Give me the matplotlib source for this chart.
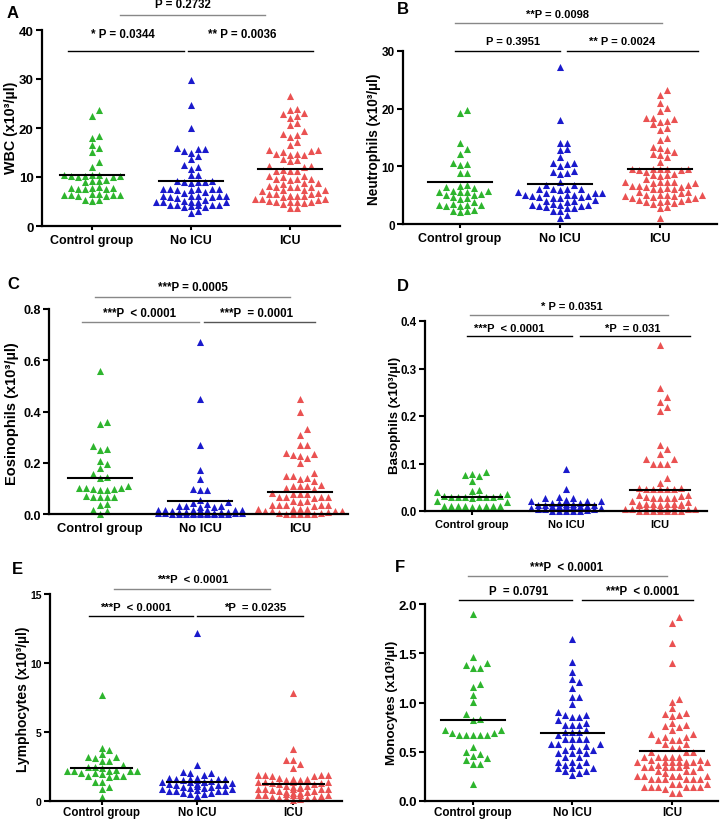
import numpy as np
import matplotlib
matplotlib.use("Agg")
import matplotlib.pyplot as plt
from matplotlib.ticker import FormatStrFormatter

plt.rcParams['font.family'] = ['Liberation Sans', 'DejaVu Sans']
plt.rcParams['font.weight'] = 'bold'

groups = ["Control group", "No ICU", "ICU"]
colors = ["#2eb52e", "#1a1acc", "#ea5252"]

# ---- A: WBC
wbc_ctrl = [23.7, 22.5, 18.4, 17.9, 16.5, 15.9, 15.1, 13.1, 12.0,
            10.5, 10.4, 10.3, 10.2, 10.1, 10.3, 10.4, 10.0,
            9.1, 9.2, 9.0, 9.3,
            7.8, 7.6, 7.7, 7.5, 7.9, 7.6, 7.7,
            6.4, 6.3, 6.2, 6.5, 6.1, 6.3, 6.4, 6.6,
            5.3, 5.2, 5.4]
wbc_noicu = [29.8, 24.6, 19.9, 15.8, 15.7, 15.9, 15.3, 14.9, 14.3, 13.6, 12.5, 12.0, 11.7,
             10.5, 10.4, 9.0, 9.1, 8.9, 9.0, 9.2, 8.8,
             7.5, 7.4, 7.6, 7.5, 7.3, 7.6, 7.5, 6.8, 6.9,
             6.1, 6.2, 6.0, 6.1, 6.2, 6.0, 6.1, 5.4, 5.8,
             5.0, 4.9, 5.1, 5.0, 4.9, 5.0,
             4.2, 4.3, 4.1, 4.2, 4.3, 4.2, 3.9, 3.9, 3.0, 2.7]
wbc_icu = [26.6, 23.7, 23.9, 23.1, 22.9, 22.4, 22.1, 21.0, 20.6, 19.3, 18.8, 18.5, 18.2, 17.2, 16.5,
           15.5, 15.4, 15.2, 15.6, 14.5, 14.6, 14.7, 14.5, 13.6, 13.4, 13.2,
           12.3, 12.2, 12.0, 11.5, 11.3, 11.3, 11.2, 10.2, 10.3, 10.1,
           9.5, 9.6, 9.4, 9.5, 8.7, 8.8, 8.6, 8.0, 7.9, 8.1, 7.9, 8.0,
           7.3, 7.4, 7.2, 7.3, 6.6, 6.7, 6.5, 6.6, 6.1, 6.2, 6.0, 6.1, 6.2,
           5.5, 5.6, 5.4, 5.5, 5.0, 5.1, 4.9, 5.0, 5.0, 4.5, 4.6, 3.6, 3.6]
wbc_mid = [10.5, 9.1, 11.6]

# ---- B: Neutrophils
neu_ctrl = [19.7, 19.3, 14.1, 13.0, 12.1, 10.6, 10.4, 10.2, 8.9, 8.9,
            6.8, 6.6, 6.4, 6.3, 5.7, 5.6, 5.5, 5.6, 5.7, 5.1, 5.2, 5.0,
            4.5, 4.6, 4.4, 3.8, 3.3, 3.2, 3.4, 3.3, 3.2, 3.3, 2.5, 2.2, 2.3, 2.1]
neu_noicu = [27.2, 18.1, 14.1, 14.0, 12.9, 13.0, 11.7, 10.5, 10.6, 10.4, 10.0, 9.2, 8.9, 9.0, 8.6, 7.3, 6.8, 6.7,
             6.0, 6.1, 5.9, 6.0, 6.1, 5.4, 5.5, 5.3, 5.4,
             5.0, 4.9, 5.1, 5.0, 4.9, 4.6, 4.5, 4.6, 4.5,
             4.0, 4.1, 3.9, 4.0, 3.3, 3.2, 3.4, 3.3, 3.2, 3.3,
             2.8, 2.9, 2.7, 2.3, 2.2, 1.6, 1.0]
neu_icu = [23.3, 22.4, 21.0, 20.2, 19.6, 18.4, 18.2, 18.3, 17.7, 17.8, 17.3, 16.6, 16.3, 15.0, 14.5,
           13.4, 13.1, 12.9, 12.5, 12.2, 11.9, 11.6, 10.8,
           9.5, 9.4, 9.6, 9.5, 9.4, 9.5, 9.6, 9.0,
           8.5, 8.4, 8.6, 8.5, 7.8, 7.2, 7.1, 7.3, 7.2, 7.1, 7.2,
           6.6, 6.5, 6.7, 6.6, 6.5, 6.1, 6.0, 6.2, 6.1,
           5.5, 5.4, 5.6, 5.0, 4.9, 5.1, 5.0, 4.9, 5.0,
           4.5, 4.4, 4.6, 4.5, 4.0, 3.9, 4.1, 4.0, 3.9, 3.6, 3.5, 2.9, 2.8, 1.1]
neu_mid = [7.2, 7.0, 9.6]

# ---- C: Eosinophils
eos_ctrl = [0.56, 0.36, 0.35, 0.265, 0.255, 0.25, 0.205, 0.195, 0.18, 0.155, 0.145, 0.14, 0.11,
            0.10, 0.095, 0.10, 0.098, 0.095, 0.10, 0.097,
            0.067, 0.065, 0.07, 0.066, 0.068, 0.04, 0.035, 0.015, 0.012, 0.0]
eos_noicu = [0.67, 0.45, 0.27, 0.17, 0.135, 0.095, 0.094, 0.096, 0.055, 0.045, 0.04, 0.042,
             0.03, 0.028, 0.032, 0.03, 0.029, 0.015, 0.016, 0.014, 0.015, 0.016, 0.014, 0.015, 0.013,
             0.0, 0.0, 0.0, 0.0, 0.0, 0.0, 0.0, 0.0, 0.0, 0.003, 0.002, 0.004, 0.003, 0.005,
             0.006, 0.002, 0.004, 0.007, 0.005, 0.006, 0.008]
eos_icu = [0.45, 0.40, 0.33, 0.31, 0.27, 0.27, 0.24, 0.235, 0.225, 0.22, 0.23, 0.20,
           0.16, 0.15, 0.148, 0.14, 0.13, 0.138,
           0.11, 0.112, 0.108, 0.11, 0.10, 0.098,
           0.08, 0.082, 0.078, 0.08, 0.065, 0.066, 0.064, 0.065, 0.067,
           0.05, 0.052, 0.048, 0.035, 0.036, 0.034, 0.035, 0.037, 0.033,
           0.02, 0.021, 0.019, 0.02, 0.01, 0.011, 0.009, 0.01, 0.012,
           0.0, 0.0, 0.0, 0.0, 0.0, 0.003, 0.004]
eos_mid = [0.142, 0.05, 0.085]

# ---- D: Basophils
bas_ctrl = [0.083, 0.077, 0.075, 0.073, 0.063, 0.045, 0.043, 0.04, 0.035,
            0.03, 0.029, 0.031, 0.03, 0.028, 0.03, 0.029, 0.031, 0.03, 0.02, 0.021,
            0.01, 0.011, 0.01, 0.009, 0.01, 0.011, 0.01, 0.009, 0.01]
bas_noicu = [0.088, 0.047, 0.028, 0.029, 0.027, 0.022, 0.021, 0.023, 0.022,
             0.016, 0.017, 0.015, 0.011, 0.01, 0.012, 0.011, 0.01, 0.012,
             0.005, 0.006, 0.004, 0.0, 0.0, 0.0, 0.0, 0.001, 0.002, 0.011, 0.01, 0.012,
             0.005, 0.006, 0.016, 0.015]
bas_icu = [0.35, 0.26, 0.24, 0.23, 0.22, 0.21, 0.14, 0.13, 0.12, 0.11, 0.11, 0.10, 0.10, 0.10, 0.07, 0.06,
           0.047, 0.046, 0.048, 0.047, 0.046, 0.047, 0.048,
           0.033, 0.032, 0.034, 0.028, 0.027, 0.029, 0.028, 0.027,
           0.02, 0.021, 0.014, 0.013, 0.015, 0.014, 0.013, 0.014, 0.015, 0.014, 0.013,
           0.005, 0.006, 0.004, 0.005, 0.006, 0.004, 0.005, 0.006, 0.005,
           0.0, 0.0, 0.0, 0.0, 0.0, 0.0, 0.0]
bas_mid = [0.03, 0.012, 0.045]

# ---- E: Lymphocytes
lym_ctrl = [7.65, 3.85, 3.7, 3.4, 3.2, 3.2, 3.1, 2.9, 2.9, 2.6, 2.45, 2.45, 2.4,
            2.2, 2.2, 2.15, 2.2, 2.25, 2.2, 2.0, 2.0, 1.95, 1.8, 1.8, 1.75, 1.8,
            1.4, 1.4, 1.05, 0.85, 0.3]
lym_noicu = [12.2, 2.6, 2.05, 2.0, 2.1, 1.9, 1.6, 1.6, 1.55, 1.6, 1.65, 1.6,
             1.4, 1.4, 1.35, 1.4, 1.15, 1.15, 1.1, 1.2, 1.15, 0.95, 0.95, 0.9, 1.0,
             0.7, 0.7, 0.75, 0.7, 0.5, 0.5, 0.55, 0.35, 1.3, 1.5, 1.25, 0.8, 0.85,
             1.45, 1.7, 1.05, 0.6]
lym_icu = [7.85, 3.75, 3.0, 2.95, 2.7, 2.4, 1.85, 1.85, 1.8, 1.9, 1.85, 1.8, 1.6, 1.6, 1.55,
           1.35, 1.35, 1.3, 1.4, 1.35, 1.3, 1.1, 1.1, 1.05, 0.9, 0.9, 0.85, 0.95, 0.9, 0.9,
           0.65, 0.65, 0.6, 0.45, 0.45, 0.4, 0.5, 0.45, 0.4, 0.25, 0.25, 0.2, 0.3,
           1.2, 1.25, 1.0, 0.75, 0.55, 0.35, 0.15, 0.1, 1.65, 1.5, 0.8, 0.7, 0.2]
lym_mid = [2.4, 1.4, 1.2]

# ---- F: Monocytes
mon_ctrl = [1.9, 1.46, 1.4, 1.38, 1.35, 1.35, 1.19, 1.16, 1.08, 1.01, 0.88, 0.83, 0.82,
            0.72, 0.72, 0.69, 0.69, 0.67, 0.67, 0.67, 0.67, 0.67,
            0.55, 0.5, 0.48, 0.46, 0.44, 0.42, 0.38, 0.38, 0.17]
mon_noicu = [1.64, 1.41, 1.31, 1.24, 1.21, 1.15, 1.06, 1.06, 0.98,
             0.9, 0.87, 0.87, 0.85, 0.85, 0.82, 0.79, 0.77, 0.77, 0.77, 0.72,
             0.7, 0.7, 0.7, 0.67, 0.63, 0.63, 0.63, 0.63, 0.58, 0.58, 0.58, 0.56, 0.56,
             0.52, 0.52, 0.52, 0.49, 0.49, 0.49, 0.45, 0.45, 0.4, 0.4, 0.4,
             0.37, 0.37, 0.33, 0.33, 0.33, 0.3, 0.3, 0.28, 0.26]
mon_icu = [1.87, 1.81, 1.6, 1.4, 1.04, 1.01, 0.94, 0.88, 0.89, 0.87, 0.86, 0.79, 0.77, 0.76, 0.75,
           0.72, 0.68, 0.68, 0.65, 0.65, 0.62, 0.62, 0.62, 0.58, 0.58, 0.54, 0.54,
           0.5, 0.5, 0.5, 0.45, 0.45, 0.45, 0.45, 0.45, 0.42, 0.42,
           0.4, 0.4, 0.4, 0.4, 0.4, 0.4, 0.4, 0.37, 0.37,
           0.35, 0.35, 0.35, 0.35, 0.35, 0.35, 0.3, 0.3, 0.3, 0.28,
           0.25, 0.25, 0.25, 0.25, 0.25, 0.25, 0.25, 0.22, 0.22, 0.22, 0.22, 0.22, 0.22,
           0.17, 0.17, 0.17, 0.14, 0.14, 0.14, 0.14, 0.14, 0.14, 0.12, 0.08, 0.08]
mon_mid = [0.82, 0.69, 0.505]

W, H = 721, 820

panels = [
    dict(letter="A", lpos=(13, 13), ylabel="WBC (x10³/µl)", ypos=(11, 128),
         data=[wbc_ctrl, wbc_noicu, wbc_icu], mid=wbc_mid,
         box=(42, 31, 340, 227), xlim=(-0.505, 2.505), ylim=(0, 40), yticks=[0, 10, 20, 30, 40], fmt="%d",
         fs=(9.5, 9, 10.3, 8.3), xpad=3,
         brackets=[(-0.24, 0.93, 35.7, "* P = 0.0344", 0.31, 39.2, "black"),
                   (0.97, 2.23, 35.7, "** P = 0.0036", 1.52, 39.2, "black"),
                   (0.28, 1.75, 43.1, "P = 0.2732", 0.92, 45.4, "#888888")]),
    dict(letter="B", lpos=(403, 10), ylabel="Neutrophils (x10³/µl)", ypos=(374, 139),
         data=[neu_ctrl, neu_noicu, neu_icu], mid=neu_mid,
         box=(403, 52, 717, 225), xlim=(-0.57, 2.57), ylim=(0, 30), yticks=[0, 10, 20, 30], fmt="%d",
         fs=(8.5, 9, 9.8, 8), xpad=3,
         brackets=[(-0.05, 1.0, 30.0, "P = 0.3951", 0.53, 31.7, "black"),
                   (1.07, 2.38, 30.0, "** P = 0.0024", 1.62, 31.7, "black"),
                   (-0.05, 2.02, 34.8, "**P = 0.0098", 0.97, 36.4, "#888888")]),
    dict(letter="C", lpos=(13, 285), ylabel="Eosinophils (x10³/µl)", ypos=(12, 414),
         data=[eos_ctrl, eos_noicu, eos_icu], mid=eos_mid,
         box=(49, 310, 348, 515), xlim=(-0.51, 2.48), ylim=(0, 0.8), yticks=[0, 0.2, 0.4, 0.6, 0.8], fmt="%.1f",
         fs=(9, 9.3, 10.5, 8.3), xpad=3,
         brackets=[(-0.18, 0.99, 0.749, "***P  < 0.0001", 0.40, 0.784, "#888888"),
                   (1.04, 2.15, 0.749, "***P  = 0.0001", 1.57, 0.784, "#555555"),
                   (-0.05, 1.9, 0.847, "***P = 0.0005", 0.93, 0.886, "#888888")]),
    dict(letter="D", lpos=(403, 287), ylabel="Basophils (x10³/µl)", ypos=(395, 415),
         data=[bas_ctrl, bas_noicu, bas_icu], mid=bas_mid,
         box=(425, 322, 707, 512), xlim=(-0.5, 2.5), ylim=(0, 0.4), yticks=[0, 0.1, 0.2, 0.3, 0.4], fmt="%.1f",
         fs=(8.3, 7.9, 9.5, 8), xpad=3,
         brackets=[(-0.05, 1.06, 0.368, "***P  < 0.0001", 0.40, 0.385, "black"),
                   (1.15, 2.32, 0.368, "*P  = 0.031", 1.71, 0.385, "black"),
                   (-0.02, 2.09, 0.413, "* P = 0.0351", 1.06, 0.432, "#888888")]),
    dict(letter="E", lpos=(17, 570), ylabel="Lymphocytes (x10³/µl)", ypos=(23, 699),
         data=[lym_ctrl, lym_noicu, lym_icu], mid=lym_mid,
         box=(50, 595, 342, 802), xlim=(-0.54, 2.51), ylim=(0, 15), yticks=[0, 5, 10, 15], fmt="%d",
         fs=(7.5, 8.3, 10, 8.1), xpad=0.5,
         brackets=[(-0.13, 0.95, 13.4, "***P  < 0.0001", 0.35, 14.06, "black"),
                   (1.0, 2.1, 13.4, "*P  = 0.0235", 1.6, 14.06, "black"),
                   (0.13, 1.76, 15.36, "***P  < 0.0001", 0.95, 16.1, "#888888")]),
    dict(letter="F", lpos=(400, 568), ylabel="Monocytes (x10³/µl)", ypos=(392, 703),
         data=[mon_ctrl, mon_noicu, mon_icu], mid=mon_mid,
         box=(425, 605, 718, 802), xlim=(-0.48, 2.46), ylim=(0, 2.0), yticks=[0, 0.5, 1.0, 1.5, 2.0], fmt="%.1f",
         fs=(9.5, 8.4, 9.6, 8.3), xpad=0.5,
         brackets=[(-0.14, 1.0, 2.04, "P  = 0.0791", 0.46, 2.13, "black"),
                   (1.1, 2.21, 2.04, "***P  < 0.0001", 1.7, 2.13, "black"),
                   (-0.05, 1.95, 2.28, "***P  < 0.0001", 0.94, 2.38, "#888888")]),
]


def swarm(ax, center, vals, w=7.0, h=6.0, limit=0.42):
    # greedy beeswarm in pixel space, staggered by half a marker
    vals = np.asarray(vals, float)
    ypx = ax.transData.transform(np.column_stack([np.full(len(vals), center), vals]))[:, 1]
    unit = ax.transData.transform((1, 0))[0] - ax.transData.transform((0, 0))[0]
    step = w / 2
    cands = [0.0]
    k = 1
    while k * step <= limit * unit:
        cands += [k * step, -k * step]
        k += 1
    px, py = [], []
    xs = np.zeros(len(vals))
    for i in np.argsort(vals, kind="stable"):
        ax_ = np.array(px)
        ay_ = np.array(py)
        best, fallback, fb_n = None, 0.0, 10 ** 9
        for c in cands:
            n = 0
            if len(ax_):
                n = int(((np.abs(ay_ - ypx[i]) < h) & (np.abs(ax_ - c) < w)).sum())
            if n == 0:
                best = c
                break
            if n < fb_n:
                fb_n, fallback = n, c
        if best is None:
            best = fallback
        xs[i] = best
        px.append(best)
        py.append(ypx[i])
    return center + xs / unit


fig = plt.figure(figsize=(W / 100, H / 100), dpi=100)

for p in panels:
    l, t, r, b = p["box"]
    ax = fig.add_axes([l / W, 1 - b / H, (r - l) / W, (b - t) / H])
    ax.set_xlim(*p["xlim"])
    ax.set_ylim(*p["ylim"])
    tick_fs, xl_fs, yl_fs, ann_fs = p["fs"]

    for g, vals in enumerate(p["data"]):
        xs = swarm(ax, g, vals)
        ax.scatter(xs, vals, marker="^", s=26, color=colors[g], linewidths=0,
                   clip_on=False, zorder=2)
        m = p["mid"][g]
        ax.plot([g - 0.32, g + 0.32], [m, m], color="black", lw=1.5, zorder=3)

    for x0, x1, yl, txt, xt, yt, col in p["brackets"]:
        ax.plot([x0, x1], [yl, yl], color=col, lw=1.0, clip_on=False)
        ax.text(xt, yt, txt, ha="center", va="center", fontsize=ann_fs,
                fontweight="bold", clip_on=False)

    for s in ["top", "right"]:
        ax.spines[s].set_visible(False)
    for s in ["left", "bottom"]:
        ax.spines[s].set_linewidth(1.6)
    ax.set_xticks([0, 1, 2])
    ax.set_xticklabels(groups, fontsize=xl_fs, fontweight="bold")
    ax.set_yticks(p["yticks"])
    ax.yaxis.set_major_formatter(FormatStrFormatter(p["fmt"]))
    ax.tick_params(axis="y", labelsize=tick_fs, width=1.5, length=4, pad=2)
    ax.tick_params(axis="x", width=1.5, length=3, pad=p["xpad"])
    for lab in ax.get_yticklabels():
        lab.set_fontweight("bold")

    yx, yy = p["ypos"]
    fig.text(yx / W, 1 - yy / H, p["ylabel"], rotation=90, fontsize=yl_fs,
             fontweight="bold", ha="center", va="center")

    lx, ly = p["lpos"]
    fig.text(lx / W, 1 - ly / H, p["letter"], fontsize=12, fontweight="bold",
             ha="center", va="center")

fig.savefig("out.png", dpi=100)
